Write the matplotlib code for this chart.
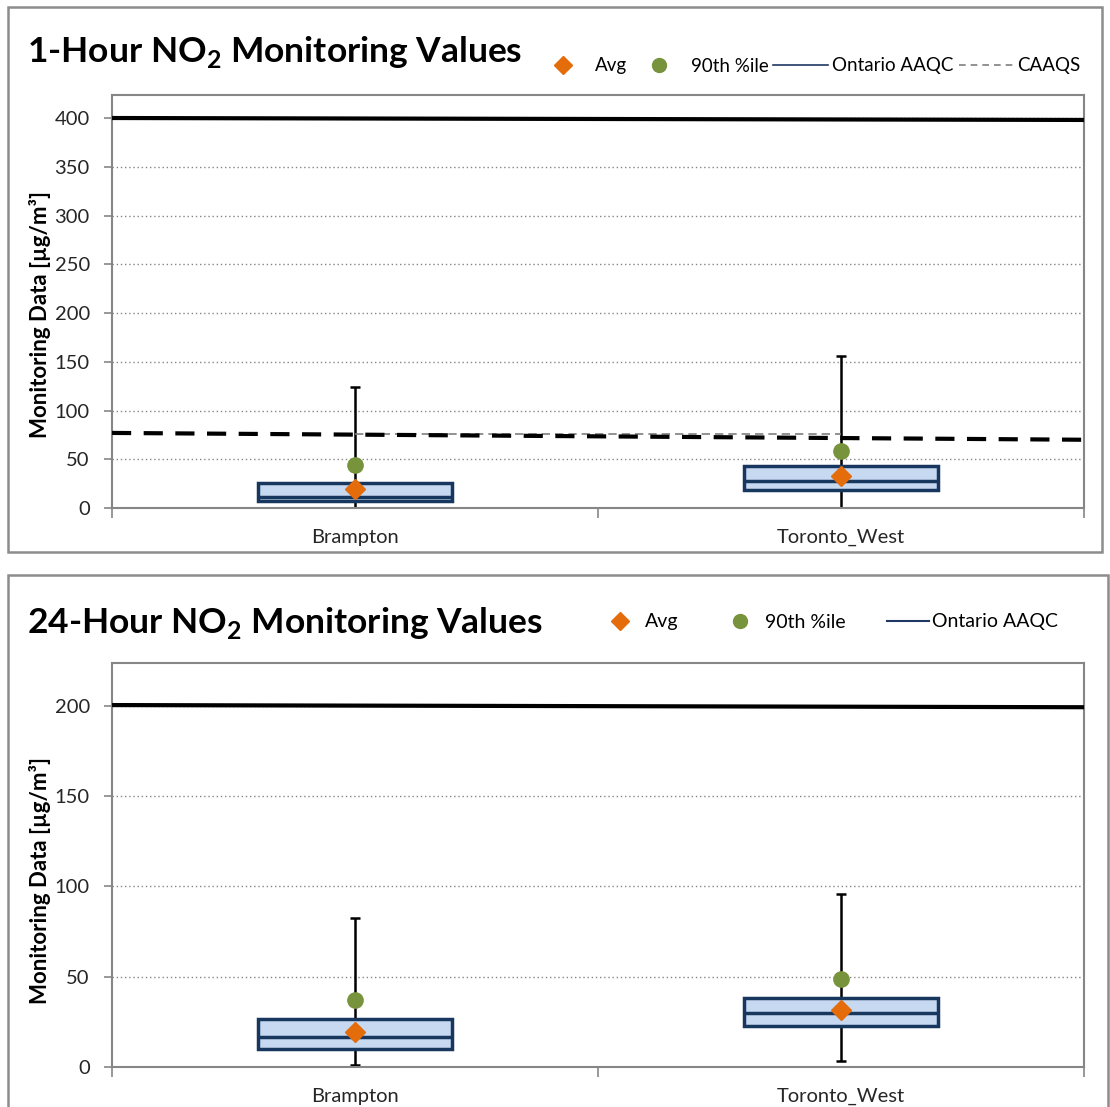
import matplotlib
matplotlib.use('Agg')
import matplotlib.pyplot as plt
from matplotlib.lines import Line2D
from matplotlib.patches import Rectangle

plt.rcParams['font.family'] = ['Lato', 'DejaVu Sans']
plt.rcParams['mathtext.fontset'] = 'custom'
plt.rcParams['mathtext.rm'] = 'Lato'
plt.rcParams['mathtext.bf'] = 'Lato:bold'

W, H = 1110, 1107

stations = ['Brampton', 'Toronto_West']

# 1-hour NO2 (ug/m3)
h1_min = [0.5, 0.5]
h1_q1 = [7.5, 18]
h1_med = [11, 27.5]
h1_q3 = [25.5, 43]
h1_max = [124, 156]
h1_avg = [19.5, 33]
h1_p90 = [44, 58]
h1_aaqc = [400, 398]      # left edge -> right edge of plot
h1_caaqs = [77, 70]
h1_caaqs_sites = [76, 76]

# 24-hour NO2 (ug/m3)
h24_min = [1, 3.5]
h24_q1 = [10, 22.7]
h24_med = [16.4, 29.7]
h24_q3 = [26.6, 38.4]
h24_max = [82.5, 95.7]
h24_avg = [19.6, 31.6]
h24_p90 = [37.1, 48.6]
h24_aaqc = [200.5, 199.3]

ORANGE = '#E46C0A'
GREEN = '#77933C'
BOXFILL = '#C6D9F1'
NAVY = '#17375E'
GREY = '#868686'


def fx(px):
    return px / W


def fy(py):
    return 1 - py / H


def draw_panel(ax, mn, q1, med, q3, mx, avg, p90, ymax, yticks):
    x = list(range(len(stations)))
    heights = [b - a for a, b in zip(q1, q3)]
    ax.bar(x, heights, bottom=q1, width=0.4, color=BOXFILL, edgecolor=NAVY,
           linewidth=2.5, zorder=3)
    ax.hlines(med, [i - 0.2 for i in x], [i + 0.2 for i in x], color=NAVY,
              linewidth=2.5, zorder=4)
    ax.vlines(x, mn, mx, color='black', linewidth=1.8, zorder=2)
    ax.hlines(mx, [i - 0.01 for i in x], [i + 0.01 for i in x], color='black', linewidth=1.8, zorder=2)
    ax.hlines(mn, [i - 0.01 for i in x], [i + 0.01 for i in x], color='black', linewidth=1.8, zorder=2)
    ax.plot(x, avg, ls='none', marker='D', ms=10, color=ORANGE, zorder=6)
    ax.plot(x, p90, ls='none', marker='o', ms=11, color=GREEN, zorder=6)

    ax.set_xlim(-0.5, len(stations) - 0.5)
    ax.set_ylim(0, ymax)
    ax.set_yticks(yticks)
    ax.set_yticklabels([str(v) for v in yticks])
    ax.set_xticks([-0.5, 0.5, 1.5])
    ax.set_xticklabels([])
    ax.set_xticks(x, minor=True)
    ax.set_xticklabels(stations, minor=True)
    ax.tick_params(axis='x', which='major', length=7, color=GREY, width=1.2)
    ax.tick_params(axis='x', which='minor', length=0, pad=15, labelsize=14.5, labelcolor='#262626')
    ax.tick_params(axis='y', length=6, color=GREY, width=1.2, pad=10, labelsize=14.5,
                   labelcolor='#262626')
    for s in ax.spines.values():
        s.set_color(GREY)
        s.set_linewidth(1.5)
    for v in yticks[1:]:
        ax.axhline(v, color=GREY, linewidth=1, linestyle=(0, (1, 2)), zorder=1)


fig = plt.figure(figsize=(W / 100, H / 100), dpi=100)

# panel frames
fig.patches.append(Rectangle((fx(8), fy(552)), fx(1102 - 8), (552 - 7) / H, fill=False,
                             ec='#8C8C8C', lw=1.8, transform=fig.transFigure))
fig.patches.append(Rectangle((fx(8), fy(1115)), fx(1108 - 8), (1115 - 575) / H, fill=False,
                             ec='#8C8C8C', lw=1.8, transform=fig.transFigure))

# ---- 1-hour panel
ax1 = fig.add_axes([fx(112), fy(508), fx(1084 - 112), (508 - 95) / H])
draw_panel(ax1, h1_min, h1_q1, h1_med, h1_q3, h1_max, h1_avg, h1_p90, 423.6,
           [0, 50, 100, 150, 200, 250, 300, 350, 400])
ax1.plot([-0.5, 1.5], h1_aaqc, color='black', linewidth=3, zorder=5)
ax1.plot([0, 1], h1_caaqs_sites, color='#7F7F7F', linewidth=1.2, dashes=(5, 3), zorder=4)
ax1.plot([-0.5, 1.5], h1_caaqs, color='black', linewidth=3, dashes=(4.6, 3), zorder=5)

fig.text(fx(27), fy(62), r'1-Hour NO$_\mathbf{2}$ Monitoring Values', fontsize=25.5,
         fontweight='bold', va='baseline', ha='left')
fig.text(fx(40), fy(314), 'Monitoring Data [µg/m³]', rotation=90, fontsize=16,
         fontweight='bold', ha='center', va='center')

h_avg = Line2D([], [], ls='none', marker='D', ms=9, color=ORANGE)
h_p90 = Line2D([], [], ls='none', marker='o', ms=10, color=GREEN)
h_aaqc = Line2D([], [], color='#1F3864', linewidth=1.2)
h_caaqs = Line2D([], [], color='#7F7F7F', linewidth=1.2, dashes=(4, 3))

fig.legend([h_avg, h_p90, h_aaqc, h_caaqs], ['Avg', '90th %ile', 'Ontario AAQC', 'CAAQS'],
           loc='center left', bbox_to_anchor=(fx(536), fy(66)), ncol=4, frameon=False,
           fontsize=13.5, handlelength=2.9, handletextpad=0.25, columnspacing=0.25,
           borderpad=0, borderaxespad=0)

# ---- 24-hour panel
ax2 = fig.add_axes([fx(112), fy(1067), fx(1084 - 112), (1067 - 663) / H])
draw_panel(ax2, h24_min, h24_q1, h24_med, h24_q3, h24_max, h24_avg, h24_p90, 223.8,
           [0, 50, 100, 150, 200])
ax2.plot([-0.5, 1.5], h24_aaqc, color='black', linewidth=3, zorder=5)

fig.text(fx(27), fy(633), r'24-Hour NO$_\mathbf{2}$ Monitoring Values', fontsize=25.5,
         fontweight='bold', va='baseline', ha='left')
fig.text(fx(40), fy(880), 'Monitoring Data [µg/m³]', rotation=90, fontsize=16,
         fontweight='bold', ha='center', va='center')

h_aaqc2 = Line2D([], [], color='#1F3864', linewidth=1.5)
fig.legend([h_avg, h_p90, h_aaqc2], ['Avg', '90th %ile', 'Ontario AAQC'],
           loc='center left', bbox_to_anchor=(fx(599), fy(622)), ncol=3, frameon=False,
           fontsize=14, handlelength=2.16, handletextpad=0.2, columnspacing=2.1,
           borderpad=0, borderaxespad=0)

fig.savefig('out.png', dpi=100)
